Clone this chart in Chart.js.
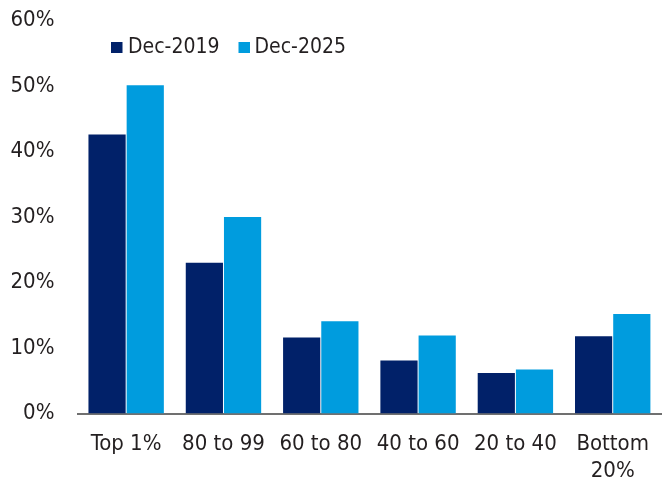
<!DOCTYPE html>
<html>
<head>
<meta charset="utf-8">
<script src="https://cdn.jsdelivr.net/npm/chart.js@4/dist/chart.umd.min.js"></script>
<style>
  html, body { margin: 0; padding: 0; background: #ffffff; overflow: hidden; }
  #wrap { width: 664px; height: 483px; overflow: hidden; position: relative; }
  canvas { display: block; }
</style>
</head>
<body>
<div id="wrap"><canvas id="c" width="666" height="483"></canvas></div>
<script>
// Share of wealth by income group
const categories = ['Top 1%', '80 to 99', '60 to 80', '40 to 60', '20 to 40', ['Bottom', '20%']];
const seriesNames = ['Dec-2019', 'Dec-2025'];
const dec2019 = [42.6, 23.0, 11.6, 8.1, 6.2, 11.8];
const dec2025 = [50.1, 30.0, 14.1, 11.9, 6.7, 15.2];
const yTicks = [0, 10, 20, 30, 40, 50, 60];

const FONT = '"DejaVu Sans Condensed", "Liberation Sans", sans-serif';
const TEXT = '#231f20';
const NAVY = '#012169';
const BLUE = '#009cde';

// Legend drawn inside the plot area, above the bars
const insideLegend = {
  id: 'insideLegend',
  afterDraw(chart) {
    const ctx = chart.ctx;
    const items = [{ x: 111, gap: 17 }, { x: 238.5, gap: 16 }];
    ctx.save();
    ctx.font = '21px ' + FONT;
    ctx.textBaseline = 'middle';
    ctx.textAlign = 'left';
    chart.data.datasets.forEach((ds, i) => {
      const it = items[i];
      ctx.fillStyle = ds.backgroundColor;
      ctx.fillRect(it.x, 42, 11.5, 11);
      ctx.fillStyle = TEXT;
      ctx.fillText(ds.label, it.x + it.gap, 47.5);
    });
    ctx.restore();
  }
};

new Chart(document.getElementById('c'), {
  type: 'bar',
  data: {
    labels: categories,
    datasets: [
      { label: seriesNames[0], data: dec2019, backgroundColor: NAVY, borderWidth: 0 },
      { label: seriesNames[1], data: dec2025, backgroundColor: BLUE, borderWidth: 0 }
    ]
  },
  options: {
    responsive: false,
    animation: false,
    devicePixelRatio: 1,
    layout: { padding: { top: 20.5, right: 0, bottom: 0, left: 0 } },
    datasets: { bar: { categoryPercentage: 0.785, barPercentage: 0.974 } },
    plugins: {
      legend: { display: false },
      tooltip: { enabled: false }
    },
    scales: {
      x: {
        z: 1,
        grid: { display: false, drawTicks: false },
        border: { display: true, color: '#707070', width: 2 },
        ticks: {
          color: TEXT,
          font: { family: FONT, size: 22, lineHeight: 1.227 },
          padding: 17,
          maxRotation: 0,
          autoSkip: false
        },
        afterFit(scale) { scale.height = 69.5; }
      },
      y: {
        min: 0,
        max: 60,
        afterBuildTicks(scale) { scale.ticks = yTicks.map(v => ({ value: v })); },
        grid: { display: false, drawTicks: false },
        border: { display: false },
        ticks: {
          color: TEXT,
          font: { family: FONT, size: 22 },
          padding: 23,
          callback: v => v + '%'
        },
        afterFit(scale) {
          scale.width = 77.5;
          scale.paddingTop = 0;
          scale.paddingBottom = 0;
        }
      }
    }
  },
  plugins: [insideLegend]
});
</script>
</body>
</html>
